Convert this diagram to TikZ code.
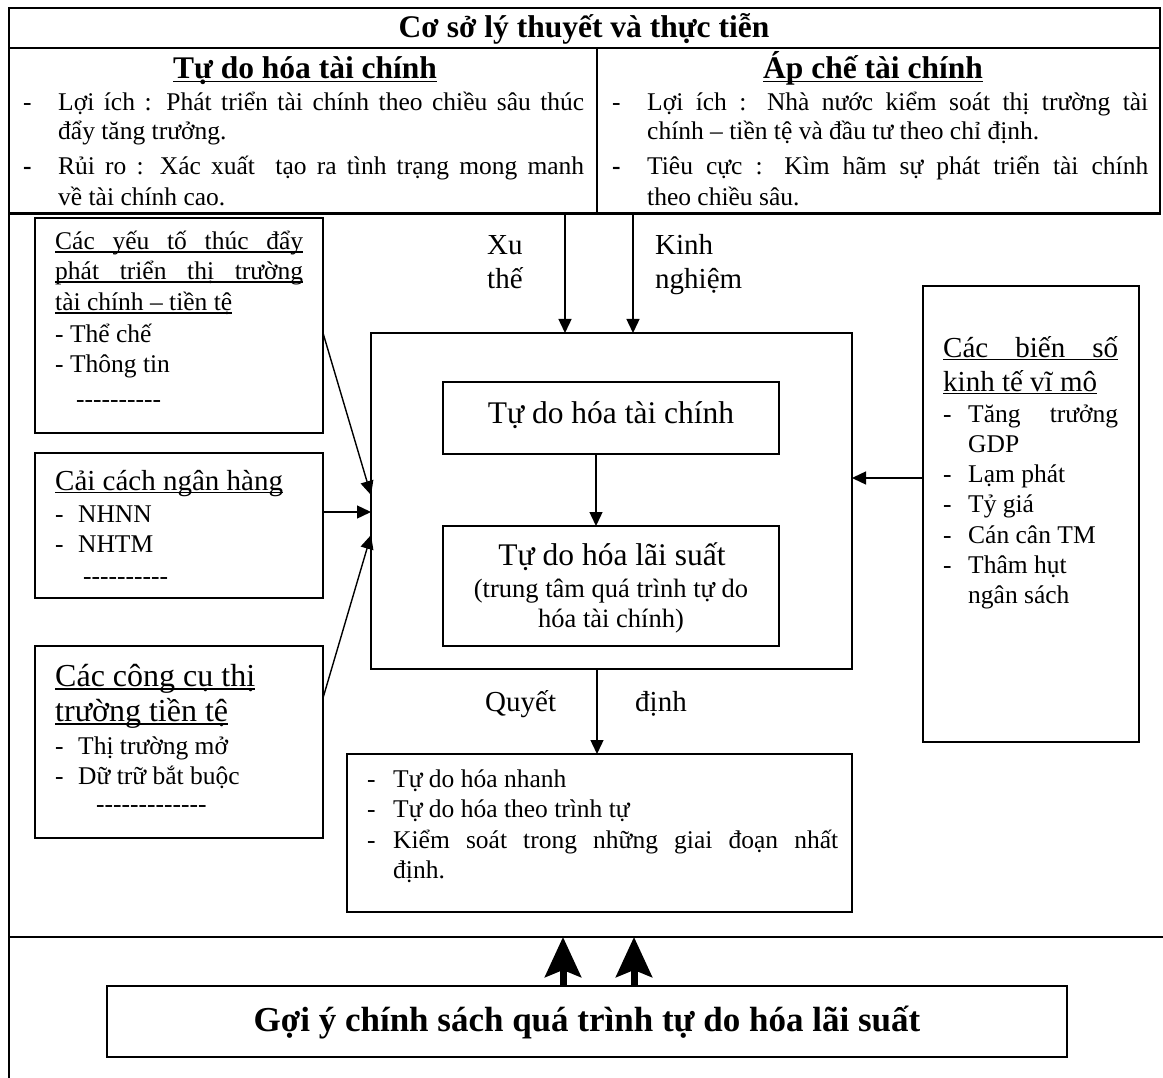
\documentclass[tikz,border=0pt]{standalone}
\usepackage{fontspec}
\setmainfont{Liberation Serif}
\usetikzlibrary{arrows.meta,calc}

% font sizes
\newcommand\fbody{\fontsize{25.5}{30.5}\selectfont}
\newcommand\fmid{\fontsize{29}{34}\selectfont}
\newcommand\fbig{\fontsize{31.5}{36}\selectfont}
\newcommand\flab{\fontsize{29}{34}\selectfont}
\newcommand\fsub{\fontsize{26.5}{30}\selectfont}
\newcommand\fgoi{\fontsize{35}{40}\selectfont}

% single hyphens (kept apart so they never join into dashes)
\newcommand\hy{\mbox{-}}
\newcommand\hyten{\hy\hy\hy\hy\hy\hy\hy\hy\hy\hy}

% underlined text: natural width, and stretched to a given width
\newsavebox\ulsave
\newcommand\ulx[1]{\sbox\ulsave{#1}\rlap{\rule[-0.11em]{\wd\ulsave}{0.055em}}\usebox\ulsave}
\newcommand\ulj[2]{\makebox[#1][s]{#2}\llap{\rule[-0.11em]{#1}{0.055em}}}

\tikzset{
  box/.style={draw, line width=1.6pt, inner sep=0pt, outer sep=0pt, anchor=north west},
  txt/.style={anchor=base west, inner sep=0pt, font=\fbody},
  ctxt/.style={anchor=base, inner sep=0pt},
  arr/.style={line width=1.4pt, -{Triangle[length=14pt,width=13pt]}},
  bigarr/.style={line width=7pt, -{Stealth[length=40pt,width=36pt,inset=7pt]}},
  frame/.style={line width=2.2pt}
}

\begin{document}
\begin{tikzpicture}[x=1pt, y=-1pt]
\useasboundingbox (0,0) rectangle (1163,1078);
\fill[white] (0,0) rectangle (1163,1078);

% ---------- upper table ----------
\node[box, frame, minimum width=1151pt, minimum height=206pt] (tbl) at (9,8) {};
\draw[frame] (9,48) -- (1160,48);
\draw[frame] (597,48) -- (597,214);
\draw[line width=3pt] (9,214) -- (1160,214);

\node[ctxt, font=\bfseries\fbig] (title) at (584,38) {Cơ sở lý thuyết và thực tiễn};
\node[ctxt, font=\bfseries\fbig] (hl) at (305,79) {\ulx{Tự do hóa tài chính}};
\node[ctxt, font=\bfseries\fbig] (hr) at (873,79) {\ulx{Áp chế tài chính}};

\node[txt] (tl1) at (23,111) {-};
\node[txt] (tl1a) at (58,111) {\makebox[526pt][s]{Lợi ích : Phát triển tài chính theo chiều sâu thúc}};
\node[txt] (tl1b) at (58,140) {đẩy tăng trưởng.};
\node[txt] (tl2) at (23,175) {\textbf{-}};
\node[txt] (tl2a) at (58,175) {\makebox[526pt][s]{Rủi ro : Xác xuất\ \ tạo ra tình trạng mong manh}};
\node[txt] (tl2b) at (58,206) {về tài chính cao.};

\node[txt] (tr1) at (612,111) {-};
\node[txt] (tr1a) at (647,111) {\makebox[501pt][s]{Lợi ích : Nhà nước kiểm soát thị trường tài}};
\node[txt] (tr1b) at (647,140) {chính – tiền tệ và đầu tư theo chỉ định.};
\node[txt] (tr2) at (612,175) {\textbf{-}};
\node[txt] (tr2a) at (647,175) {\makebox[501pt][s]{Tiêu cực : Kìm hãm sự phát triển tài chính}};
\node[txt] (tr2b) at (647,206) {theo chiều sâu.};

% ---------- outer lines of the lower part ----------
\draw[frame] (9,214) -- (9,1078);
\draw[frame] (9,937) -- (1163,937);

% ---------- central block ----------
\node[box, minimum width=481pt, minimum height=336pt] (cb) at (371,333) {};
\node[box, minimum width=336pt, minimum height=72pt] (ib1) at (443,382) {};
\node[box, minimum width=336pt, minimum height=120pt] (ib2) at (443,526) {};
\node[ctxt, font=\fbig] (t1) at (611,423) {Tự do hóa tài chính};
\node[ctxt, font=\fbig] (t2) at (612,565) {Tự do hóa lãi suất};
\node[ctxt, font=\fsub] (t3) at (611,597) {(trung tâm quá trình tự do};
\node[ctxt, font=\fsub] (t4) at (611,627) {hóa tài chính)};

% ---------- left boxes ----------
\node[box, minimum width=288pt, minimum height=215pt] (lb1) at (35,218) {};
\node[txt] (a1) at (55,250) {\ulj{248pt}{Các yếu tố thúc đẩy}};
\node[txt] (a2) at (55,280) {\ulj{248pt}{phát triển thị trường}};
\node[txt] (a3) at (55,311) {\ulx{tài chính – tiền tệ}};
\node[txt] (a4) at (55,342) {- Thể chế};
\node[txt] (a5) at (55,372) {- Thông tin};
\node[txt] (a6) at (76,407) {\hyten};

\node[box, minimum width=288pt, minimum height=145pt] (lb2) at (35,453) {};
\node[txt, font=\fmid] (b1) at (55,490) {\ulx{Cải cách ngân hàng}};
\node[txt] (b2) at (55,522) {\makebox[23pt][l]{-}NHNN};
\node[txt] (b3) at (55,552) {\makebox[23pt][l]{-}NHTM};
\node[txt] (b4) at (83,584) {\hyten};

\node[box, minimum width=288pt, minimum height=192pt] (lb3) at (35,646) {};
\node[txt, font=\fontsize{32}{36}\selectfont] (c1) at (55,686) {\ulx{Các công cụ thị}};
\node[txt, font=\fontsize{32}{36}\selectfont] (c2) at (55,721) {\ulx{trường tiền tệ}};
\node[txt] (c3) at (55,754) {\makebox[23pt][l]{-}Thị trường mở};
\node[txt] (c4) at (55,784) {\makebox[23pt][l]{-}Dữ trữ bắt buộc};
\node[txt] (c5) at (96,812) {\hyten\hy\hy\hy};

% ---------- right box ----------
\node[box, minimum width=216pt, minimum height=456pt] (rb) at (923,286) {};
\node[txt, font=\fmid] (d1) at (943,357) {\ulj{175pt}{Các biến số}};
\node[txt, font=\fmid] (d2) at (943,391) {\ulx{kinh tế vĩ mô}};
\node[txt] (d3) at (943,422) {\makebox[25pt][l]{-}\makebox[150pt][s]{Tăng trưởng}};
\node[txt] (d4) at (968,452) {GDP};
\node[txt] (d5) at (943,482) {\makebox[25pt][l]{-}Lạm phát};
\node[txt] (d6) at (943,512) {\makebox[25pt][l]{-}Tỷ giá};
\node[txt] (d7) at (943,543) {\makebox[25pt][l]{-}Cán cân TM};
\node[txt] (d8) at (943,573) {\makebox[25pt][l]{-}Thâm hụt};
\node[txt] (d9) at (968,603) {ngân sách};

% ---------- result box ----------
\node[box, minimum width=505pt, minimum height=158pt] (res) at (347,754) {};
\node[txt] (e1) at (367,787) {\makebox[26pt][l]{-}Tự do hóa nhanh};
\node[txt] (e2) at (367,817) {\makebox[26pt][l]{-}Tự do hóa theo trình tự};
\node[txt] (e3) at (367,848) {\makebox[26pt][l]{-}\makebox[445pt][s]{Kiểm soát trong những giai đoạn nhất}};
\node[txt] (e4) at (393,878) {định.};

% ---------- arrow labels ----------
\node[txt, font=\flab] (xu1) at (487,255) {Xu};
\node[txt, font=\flab] (xu2) at (487,289) {thế};
\node[txt, font=\flab] (kn1) at (655,255) {Kinh};
\node[txt, font=\flab] (kn2) at (655,289) {nghiệm};
\node[txt, font=\flab] (q1) at (485,711) {Quyết};
\node[txt, font=\flab] (q2) at (635,711) {định};

% ---------- policy box ----------
\node[box, line width=1.4pt, minimum width=960pt, minimum height=71pt] (gy) at (107,986) {};
\node[ctxt, font=\bfseries\fgoi] (g1) at (587,1031) {Gợi ý chính sách quá trình tự do hóa lãi suất};

% ---------- connectors ----------
\draw[arr] ([xshift=556pt]tbl.south west) -- ([xshift=194pt]cb.north west);
\draw[arr] ([xshift=624pt]tbl.south west) -- ([xshift=262pt]cb.north west);
\draw[arr] ([xshift=153pt]ib1.south west) -- ([xshift=153pt]ib2.north west);
\draw[arr] ([xshift=226pt]cb.south west) -- ([xshift=250pt]res.north west);
\draw[arr] ([yshift=-115pt]lb1.north east) -- ([yshift=-162pt]cb.north west);
\draw[arr] ([yshift=-59pt]lb2.north east) -- ([yshift=-179pt]cb.north west);
\draw[arr] ([yshift=-52pt]lb3.north east) -- ([yshift=-202pt]cb.north west);
\draw[arr] ([yshift=-192pt]rb.north west) -- ([yshift=-145pt]cb.north east);

\coordinate (up1) at (563,937);
\coordinate (up2) at (634,937);
\draw[bigarr] ([xshift=456pt]gy.north west) -- (up1);
\draw[bigarr] ([xshift=527pt]gy.north west) -- (up2);
\end{tikzpicture}
\end{document}
